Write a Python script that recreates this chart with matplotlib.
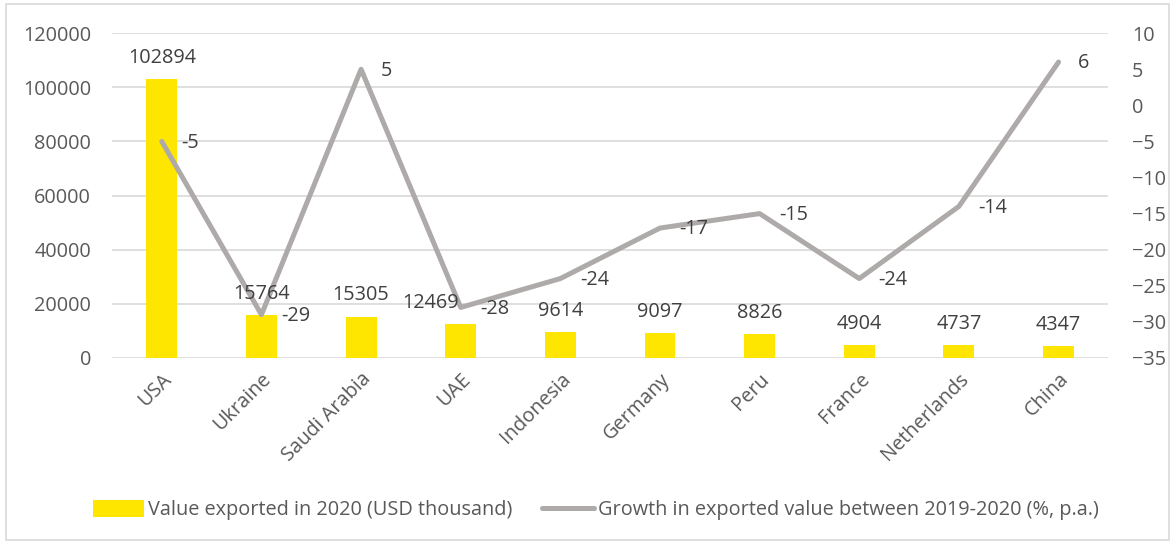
import matplotlib
matplotlib.use("Agg")
import matplotlib.pyplot as plt
from matplotlib.patches import Rectangle

# data
countries = ["USA", "Ukraine", "Saudi Arabia", "UAE", "Indonesia",
             "Germany", "Peru", "France", "Netherlands", "China"]
exported = [102894, 15764, 15305, 12469, 9614, 9097, 8826, 4904, 4737, 4347]
growth = [-5, -29, 5, -28, -24, -17, -15, -24, -14, 6]

plt.rcParams["font.family"] = ["Open Sans", "DejaVu Sans"]
fs = 14.3
txt = "#595959"
lbl = "#404040"
grid = "#D9D9D9"
yellow = "#FFE600"
grey = "#ADAAA9"

fig = plt.figure(figsize=(11.75, 5.44), dpi=100)
fig.patches.append(Rectangle((0.005, 0.008), 0.99, 0.984, transform=fig.transFigure,
                             fill=False, edgecolor=grid, linewidth=1.2))
ax = fig.add_axes([0.0953, 0.342, 0.848, 0.597])
x = list(range(len(countries)))

bars = ax.bar(x, exported, width=0.31, color=yellow, zorder=2,
              label="Value exported in 2020 (USD thousand)")
ax.set_ylim(0, 120000)
ax.set_yticks(range(0, 120001, 20000))
ax.set_xlim(-0.5, len(countries) - 0.5)
ax.grid(axis="y", color=grid, linewidth=1.2, zorder=0)
ax.set_axisbelow(True)
for s in ax.spines.values():
    s.set_visible(False)
ax.tick_params(axis="both", length=0, labelsize=fs, labelcolor=txt)
ax.tick_params(axis="y", pad=15)
ax.set_xticks(x)
ax.set_xticklabels(countries, rotation=45, ha="right", rotation_mode="anchor")
ax.tick_params(axis="x", pad=8)

ax2 = ax.twinx()
ln, = ax2.plot(x, growth, color=grey, linewidth=3.6, solid_capstyle="round",
               label="Growth in exported value between 2019-2020 (%, p.a.)", zorder=3)
ax2.set_ylim(-35, 10)
ax2.set_yticks(range(-35, 11, 5))
for s in ax2.spines.values():
    s.set_visible(False)
ax2.tick_params(axis="y", length=0, labelsize=fs, labelcolor=txt, pad=17)

# bar labels drawn on top of the line, like Excel does
for xi, v in zip(x, exported):
    dx = -22 if countries[xi] == "UAE" else 0
    ax2.annotate(str(v), (xi, v), xycoords=ax.transData, xytext=(dx, 8),
                 textcoords="offset points", ha="center", va="bottom",
                 fontsize=fs, color=lbl, zorder=5)
for xi, g in zip(x, growth):
    ax2.annotate(str(g), (xi, g), xytext=(14, -1), textcoords="offset points",
                 ha="left", va="center", fontsize=fs, color=lbl, zorder=5)

fig.legend(handles=[bars, ln], loc="center", bbox_to_anchor=(0.507, 0.062), ncol=2,
           frameon=False, fontsize=fs, labelcolor=txt, handlelength=2.6,
           handleheight=0.9, columnspacing=1.5, handletextpad=0.2)

fig.savefig("out.png", dpi=100)
